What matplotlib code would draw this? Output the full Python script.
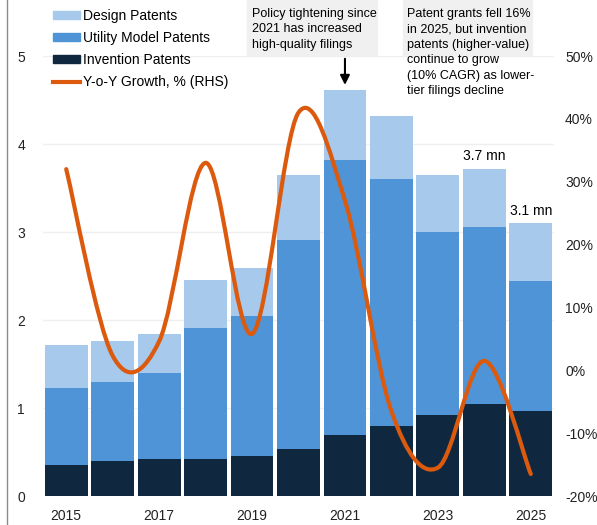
import numpy as np
import matplotlib
matplotlib.use("Agg")
import matplotlib.pyplot as plt
from matplotlib.path import Path
from matplotlib.patches import PathPatch, Patch, Rectangle
from matplotlib.lines import Line2D

plt.rcParams['font.family'] = ['Liberation Sans', 'DejaVu Sans']

# patent grants, mn
years = [2015, 2016, 2017, 2018, 2019, 2020, 2021, 2022, 2023, 2024, 2025]
invention = [0.35, 0.40, 0.42, 0.42, 0.45, 0.53, 0.69, 0.79, 0.92, 1.05, 0.97]
utility = [0.88, 0.90, 0.98, 1.49, 1.59, 2.38, 3.13, 2.81, 2.08, 2.01, 1.47]
design = [0.49, 0.46, 0.44, 0.54, 0.55, 0.74, 0.79, 0.72, 0.65, 0.66, 0.66]
# y-o-y growth of total, %
growth = [32, 2.3, 4.6, 33, 5.8, 41, 27, -6.5, -15.5, 1.5, -16.5]

c_design = '#A7C9EB'
c_util = '#4F94D7'
c_inv = '#0F2840'
c_line = '#DC5A0E'

W, H = 597, 525
fig = plt.figure(figsize=(W / 100, H / 100), dpi=100)
ax = fig.add_axes([43 / W, 29 / H, (554 - 43) / W, (496 - 56) / H])
ax2 = ax.twinx()

x = np.array(years)
inv = np.array(invention)
ut = np.array(utility)
de = np.array(design)
bw = 0.92
ax.bar(x, inv, bw, color=c_inv, zorder=2)
ax.bar(x, ut, bw, bottom=inv, color=c_util, zorder=2)
ax.bar(x, de, bw, bottom=inv + ut, color=c_design, zorder=2)

ax.set_xlim(2014.5, 2025.5)
ax.set_ylim(0, 5)
ax.set_yticks([0, 1, 2, 3, 4, 5])
ax.set_xticks(years[::2])
ax.grid(axis='y', color='#EFEFEF', lw=1, zorder=0)
ax.set_axisbelow(True)
for a in (ax, ax2):
    for s in a.spines.values():
        s.set_visible(False)
ax.tick_params(axis='both', length=0, labelsize=10, colors='#222222')
ax.tick_params(axis='y', pad=13)
ax.tick_params(axis='x', pad=9)

# smoothed growth line
ax2.set_ylim(-20, 50)
ax2.set_yticks(range(-20, 51, 10))
ax2.set_yticklabels([f'{v}%' for v in range(-20, 51, 10)])
ax2.tick_params(axis='y', length=0, labelsize=10, colors='#222222', pad=8)
g = np.array(growth, dtype=float)
pts = np.column_stack([x, g])
verts = [pts[0]]
codes = [Path.MOVETO]
n = len(pts)
for i in range(n - 1):
    p0 = pts[max(i - 1, 0)]
    p1 = pts[i]
    p2 = pts[i + 1]
    p3 = pts[min(i + 2, n - 1)]
    verts += [p1 + (p2 - p0) / 6, p2 - (p3 - p1) / 6, p2]
    codes += [Path.CURVE4] * 3
ax2.add_patch(PathPatch(Path(verts, codes), fill=False, edgecolor=c_line,
                        lw=3, capstyle='round', zorder=3))

# totals
ax.text(2024, 3.78, '3.7 mn', ha='center', va='bottom', fontsize=10)
ax.text(2025, 3.16, '3.1 mn', ha='center', va='bottom', fontsize=10)

# legend
handles = [Patch(color=c_design), Patch(color=c_util), Patch(color=c_inv),
           Line2D([], [], color=c_line, lw=3)]
labels = ['Design Patents', 'Utility Model Patents', 'Invention Patents',
          'Y-o-Y Growth, % (RHS)']
fig.legend(handles, labels, loc='upper left', bbox_to_anchor=(53 / W, 1 - 9 / H),
           frameon=False, fontsize=10, borderpad=0, borderaxespad=0,
           handlelength=1.95, handleheight=0.45, handletextpad=0.2,
           labelspacing=0.58)

# annotation boxes
fig.add_artist(Rectangle((247 / W, 1 - 55 / H), 130 / W, 55 / H,
                         transform=fig.transFigure, color='#F0F0F0', zorder=0))
fig.text(252 / W, 1 - 8 / H,
         'Policy tightening since\n2021 has increased\nhigh-quality filings',
         ha='left', va='top', fontsize=9, linespacing=1.38)
fig.add_artist(Rectangle((403 / W, 1 - 104 / H), 129 / W, 104 / H,
                         transform=fig.transFigure, color='#F0F0F0', zorder=0))
fig.text(407 / W, 1 - 8 / H,
         'Patent grants fell 16%\nin 2025, but invention\npatents (higher-value)\n'
         'continue to grow\n(10% CAGR) as lower-\ntier filings decline',
         ha='left', va='top', fontsize=9, linespacing=1.38)
ax.annotate('', xy=(2021, 4.64), xytext=(2021, 5.0), annotation_clip=False,
            arrowprops=dict(arrowstyle='-|>', color='black', lw=1.5,
                            mutation_scale=14))

# frame line at left
fig.add_artist(Line2D([7 / W, 7 / W], [0, 1], transform=fig.transFigure,
                      color='#8A8A8A', lw=1))

fig.savefig('out.png', dpi=100)
